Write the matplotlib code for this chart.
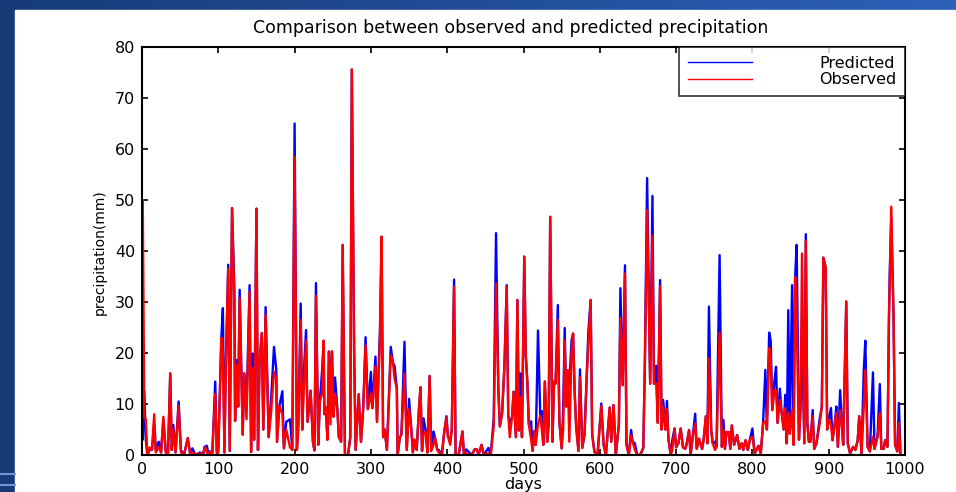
import numpy as np
import matplotlib
matplotlib.use('Agg')
import matplotlib.pyplot as plt
from matplotlib.lines import Line2D
from matplotlib.patches import Rectangle

# days with the value (predicted / observed, mm)
days = [0, 1, 3, 5, 7, 10, 13, 16, 18, 20, 22, 25, 28, 31, 34, 37, 39, 41, 44, 48,
        51, 55, 60, 63, 66, 70, 76, 80, 82, 85, 87, 89, 92, 96, 98, 100, 104, 106, 108, 110,
        113, 115, 118, 121, 122, 124, 126, 128, 130, 132, 134, 137, 141, 143, 145, 147, 150, 152, 154, 157,
        159, 162, 166, 169, 173, 176, 177, 180, 184, 186, 189, 194, 197, 200, 203, 205, 208, 210, 212, 215,
        217, 221, 224, 226, 228, 231, 233, 236, 238, 239, 241, 243, 245, 247, 249, 251, 253, 256, 258, 261,
        263, 266, 270, 273, 275, 278, 280, 284, 287, 290, 293, 296, 300, 302, 306, 308, 312, 314, 316, 318,
        321, 326, 329, 331, 334, 335, 338, 340, 344, 347, 350, 353, 355, 357, 360, 363, 365, 367, 369, 372,
        374, 377, 379, 382, 384, 387, 389, 393, 396, 399, 401, 404, 406, 409, 411, 415, 420, 422, 425, 432,
        436, 439, 441, 445, 448, 454, 457, 461, 464, 467, 469, 472, 475, 478, 480, 482, 485, 487, 490, 492,
        494, 496, 498, 501, 503, 505, 507, 510, 512, 514, 516, 519, 522, 524, 526, 528, 531, 533, 535, 538,
        540, 542, 545, 547, 550, 552, 554, 556, 558, 560, 563, 565, 567, 569, 572, 574, 577, 580, 583, 585,
        588, 590, 593, 597, 602, 605, 608, 613, 615, 618, 621, 625, 627, 630, 633, 635, 638, 641, 643, 646,
        649, 653, 657, 659, 662, 666, 669, 671, 674, 676, 679, 681, 683, 686, 688, 690, 693, 695, 698, 700,
        703, 706, 709, 712, 714, 717, 719, 722, 725, 727, 730, 734, 736, 739, 741, 743, 746, 748, 751, 753,
        757, 760, 762, 764, 766, 769, 771, 773, 776, 780, 783, 786, 788, 791, 794, 797, 800, 803, 808, 811,
        814, 817, 819, 822, 824, 826, 829, 831, 833, 836, 838, 841, 843, 845, 847, 849, 852, 854, 856, 858,
        861, 863, 865, 868, 870, 872, 874, 876, 879, 881, 884, 888, 891, 893, 896, 898, 900, 903, 905, 908,
        910, 912, 915, 917, 919, 923, 925, 928, 932, 935, 938, 940, 943, 946, 948, 951, 954, 958, 960, 964,
        967, 969, 972, 974, 977, 979, 980, 982, 985, 987, 990, 992, 994]

predicted = [15, 3, 12.5, 3, 0, 1, 1, 6, 1, 2, 2.6, 0.5, 7, 1, 0, 16, 1, 5.9, 0.5, 10.5,
             1, 0, 3.3, 0.3, 1.3, 0, 0.5, 0, 1.6, 1.8, 0.3, 0.7, 0, 14.4, 0.7, 1, 23, 28.8, 0.5, 18.6,
             37.3, 0.8, 48.4, 33, 6.7, 18.6, 9.5, 32.4, 18, 4, 16, 9.3, 33.3, 0.6, 19.9, 3, 48.3, 1, 18, 23.9,
             5, 29, 3.5, 10.4, 21.2, 16.7, 2.6, 9.6, 12.5, 1.3, 6.5, 7, 1, 65, 1, 7.6, 29.7, 5, 15.9, 24.5,
             6.5, 12.6, 2.6, 0.9, 33.7, 2, 10.4, 16.5, 22.4, 8, 9.4, 3, 20.3, 11, 20.3, 7.5, 15.2, 9, 3.5, 2.6,
             41.2, 0, 0, 3.5, 75.6, 20.3, 1, 11.9, 2.6, 9.3, 23.1, 9, 16.3, 9.2, 19.3, 6.5, 25.5, 42.8, 3.5, 5,
             1, 21.2, 18, 17.5, 13, 0, 3.5, 4, 22.2, 1, 11, 5, 0.5, 3, 1, 9, 13.3, 0.8, 7.2, 4.6,
             0.5, 15.5, 0.8, 4.6, 3.4, 1, 1, 0, 4.4, 7.6, 3.6, 2.8, 5, 34.4, 0, 0, 4.6, 0, 1.1, 0,
             1.1, 1.1, 0, 2, 0, 1.4, 0, 7.2, 43.5, 13, 5.6, 8.3, 17.4, 33.3, 8, 6, 7.5, 12.4, 3.5, 30.4,
             4.8, 16, 3.5, 38.9, 19.5, 14.4, 6, 6.6, 0.8, 4.7, 2, 24.4, 7.7, 8.6, 2, 14.4, 2.6, 6, 46.7, 2.6,
             14.4, 14, 29.4, 6.6, 1.3, 8.8, 24.9, 9.5, 16.6, 13.7, 22.5, 23.8, 12.6, 5.6, 0.8, 16.8, 1.4, 4, 15.9, 24.2,
             30.4, 4, 0.6, 0, 10.1, 2, 0, 9.3, 2.6, 9.8, 0, 6, 32.7, 13.7, 37.2, 2, 0, 4.9, 2.6, 2.3,
             0, 0, 1.4, 17.3, 54.3, 14, 50.8, 14, 17.5, 6.3, 34.3, 5, 10.8, 5, 10.6, 3, 0, 2.9, 5.2, 1.5,
             2.3, 5.2, 1.5, 1.2, 2.3, 4.9, 0, 3.9, 8.1, 1.2, 3.2, 1.2, 2.9, 7.6, 2.3, 29.1, 4.9, 2.3, 2.6, 1.6,
             39.2, 1.6, 6.9, 1.2, 4.5, 4.5, 1.2, 5.8, 2, 3.9, 1.2, 2.3, 1, 2.9, 1, 3.2, 5.2, 0.3, 1.8, 0.3,
             6.3, 16.7, 5, 24, 22.4, 8.8, 14.7, 17.3, 6.3, 13, 8.8, 5, 11.8, 2.3, 28.4, 4.2, 33.3, 2, 34.9, 41.2,
             3, 8.8, 24, 2.3, 43.3, 6.3, 2.6, 2.6, 8.8, 1.2, 2.3, 6.9, 9.5, 38.7, 36.8, 5, 6.9, 9.2, 2.9, 6.3,
             9.5, 1.6, 12.7, 6.3, 2, 30.1, 2.3, 0.3, 1.6, 1, 2.9, 7.6, 0.3, 16.7, 22.4, 1.6, 0.7, 16.2, 1.2, 3.6,
             13.9, 1.2, 1.2, 2.9, 1.6, 27.1, 35.8, 46.4, 27, 2, 0.7, 10.2, 0.3]

observed = [30, 50, 7.5, 7, 0, 1.5, 1, 8, 0.5, 1, 1.5, 0.5, 7.5, 0.5, 0, 16, 1, 5, 0.5, 9.6,
            0.5, 0, 3.3, 0.3, 0.5, 0, 0.3, 0, 1.6, 0.5, 0.3, 0.7, 0, 12, 0.3, 0.5, 23, 20, 0.5, 18.6,
            36.5, 0.8, 48.4, 30, 6.7, 17.6, 9.5, 30.8, 17, 4, 16, 7, 32, 0.6, 17, 3, 48.3, 1, 18, 23.9,
            5, 27.5, 3.5, 8, 16.3, 15, 2.6, 9.6, 8, 1.3, 5, 1.5, 1, 58.5, 1, 5, 26.5, 5, 12.6, 22.5,
            6.5, 12.6, 2.6, 0.9, 31.2, 2, 10.4, 12, 22.4, 8, 9.4, 3, 20.3, 6, 20.3, 7.5, 12, 9, 3.5, 2.6,
            41.2, 0, 0, 3.5, 75.6, 20.3, 1, 11.9, 2.6, 9.3, 21.5, 9, 12, 9.2, 17.4, 6.5, 23.2, 42.8, 3.5, 5,
            1, 19.6, 18, 15, 13, 0, 3.5, 4, 16, 1, 9, 5, 0.5, 3, 1, 9, 13.3, 0.8, 4, 4.6,
            0.5, 15.5, 0.8, 2, 3.4, 1, 0.5, 0, 4.4, 7.3, 3.6, 2, 5, 33, 0, 0, 4.6, 0, 0.3, 0,
            1.1, 1.1, 0, 2, 0, 0.3, 0, 5.6, 33.6, 13, 5.6, 8.3, 17.4, 33, 8, 3.5, 7.5, 12.4, 3.5, 30.4,
            4.8, 11.4, 3.5, 38.9, 19.5, 14.4, 6, 3, 0.8, 4.7, 2, 6, 7.7, 5, 2, 14.4, 2.6, 6, 46.7, 2.6,
            14.4, 14, 26.5, 6.6, 1.3, 5, 22.5, 9.5, 16.6, 2.6, 20, 23.8, 12.6, 5.6, 0.8, 15.3, 1.4, 4, 15.9, 21.4,
            30.4, 4, 0.6, 0, 9.6, 2, 0, 9.3, 2.6, 9.8, 0, 6, 26.9, 13.7, 35.6, 2, 0, 3.9, 2.6, 1,
            0, 0, 1.4, 17.3, 48, 14, 43, 14, 14, 6.3, 33.1, 5, 9.5, 5, 9, 3, 0, 1, 5.2, 1.5,
            2.3, 5.2, 1.5, 1.2, 2.3, 4.9, 0, 3.9, 6.2, 1.2, 3.2, 1.2, 2.9, 7.6, 2.3, 19, 4.9, 2.3, 1, 1.6,
            24, 1.6, 5, 1.2, 4.5, 4.5, 1.2, 5.8, 2, 3.9, 1.2, 2.3, 1, 2.9, 1, 3.2, 3.6, 0.3, 1.8, 0.3,
            6.3, 6.6, 5, 21, 19, 8.8, 12.7, 12.7, 6.3, 10.8, 8.8, 5, 9.2, 2.3, 8.2, 4.2, 8.8, 2, 34.9, 27.1,
            3, 8.8, 39.5, 2.3, 42, 6.3, 2.6, 2.6, 7.6, 1.2, 2.3, 5.9, 9.5, 38.7, 36.8, 5, 6.9, 6, 2.9, 6.3,
            8.2, 1.6, 8.8, 6.3, 2, 30.1, 2.3, 0.3, 1.6, 1, 2.9, 7.6, 0.3, 9.5, 16.7, 1.6, 0.7, 3.6, 1.2, 3.6,
            8.2, 1.2, 1.2, 2.9, 1.6, 27.1, 33.8, 48.7, 27, 2, 0.7, 6.3, 0.3]

W, H = 956, 492
fig = plt.figure(figsize=(W / 100, H / 100), dpi=100)

# slide background: dark blue gradient, white panel on top
bg = fig.add_axes([0, 0, 1, 1], zorder=-10)
grad = np.linspace(0, 1, 256).reshape(1, -1)
c0 = np.array([0x17, 0x3b, 0x78]) / 255
c1 = np.array([0x2c, 0x60, 0xb8]) / 255
img = c0[None, None, :] * (1 - grad[..., None]) + c1[None, None, :] * grad[..., None]
bg.imshow(img, aspect='auto', extent=[0, 1, 0, 1])
bg.add_patch(Rectangle((15 / W, 0), 1, 1 - 10 / H, color='white'))
for yy in (474, 485):
    bg.plot([0, 15 / W], [1 - yy / H] * 2, color='#6f9ad8', lw=1.5)
bg.set_xlim(0, 1)
bg.set_ylim(0, 1)
bg.axis('off')

ax = fig.add_axes([142 / W, 1 - 455 / H, 763 / W, 408 / H])
ax.plot(days, predicted, color='#0000ff', lw=1.7)
ax.plot(days, observed, color='#ff0000', lw=1.7)

ax.set_xlim(0, 1000)
ax.set_ylim(0, 80)
ax.set_xticks(np.arange(0, 1001, 100))
ax.set_yticks(np.arange(0, 81, 10))
ax.tick_params(direction='in', top=True, right=True, length=4, width=1.2,
               labelsize=11.5, pad=5)
for s in ax.spines.values():
    s.set_linewidth(1.5)

# legend with thin sample lines, as in the original
handles = [Line2D([], [], color='#0000ff', lw=1),
           Line2D([], [], color='#ff0000', lw=1)]
leg = ax.legend(handles, ['Predicted', 'Observed'], loc='upper right',
                bbox_to_anchor=(1, 1), borderaxespad=0, fancybox=False,
                fontsize=11.5, handlelength=4.0, handletextpad=4.2,
                labelspacing=0.1, borderpad=0.55)
leg.get_frame().set_edgecolor('black')
leg.get_frame().set_linewidth(1.2)

fig.text(511 / W, 1 - 28 / H, 'Comparison between observed and predicted precipitation',
         ha='center', va='center', fontsize=12.5)
fig.text(100 / W, 1 - 252 / H, 'precipitation(mm)', rotation=90,
         ha='center', va='center', fontsize=10)
fig.text(523 / W, 1 - 484 / H, 'days', ha='center', va='center', fontsize=11.5)

fig.savefig('out.png', dpi=100)
